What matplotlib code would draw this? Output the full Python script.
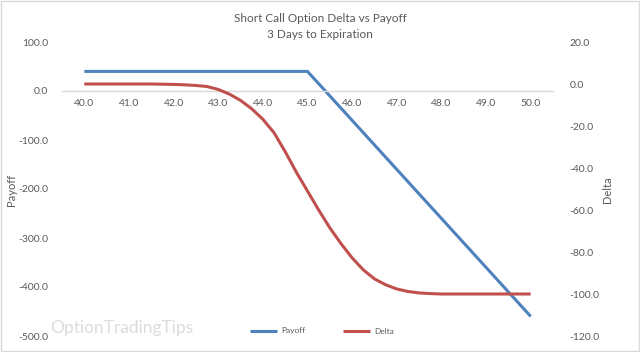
import matplotlib
matplotlib.use("Agg")
import matplotlib.pyplot as plt
from matplotlib.patches import Rectangle

plt.rcParams['font.family'] = ['Lato', 'DejaVu Sans']

# payoff of the short call (strike 45, premium 40)
payoff_price = [40.0, 41.0, 42.0, 43.0, 44.0, 45.0, 46.0, 47.0, 48.0, 49.0, 50.0]
payoff = [40, 40, 40, 40, 40, 40, -60, -160, -260, -360, -460]

# delta
delta_price = [40.0, 40.5, 41.0, 41.5, 42.0, 42.25, 42.5, 42.75, 43.0, 43.25, 43.5,
               43.75, 44.0, 44.25, 44.5, 44.75, 45.0, 45.25, 45.5, 45.75, 46.0,
               46.25, 46.5, 46.75, 47.0, 47.25, 47.5, 47.75, 48.0, 48.5, 49.0,
               49.5, 50.0]
delta = [0.0, 0.0, 0.0, 0.0, -0.2, -0.4, -0.7, -1.2, -2.6, -4.8, -7.8,
         -11.8, -16.8, -23.2, -32.2, -42.0, -51.0, -60.0, -68.5, -76.0, -82.8,
         -88.5, -92.8, -95.6, -97.6, -98.8, -99.5, -99.8, -100.0, -100.0, -100.0,
         -100.0, -100.0]

xticks = [40.0, 41.0, 42.0, 43.0, 44.0, 45.0, 46.0, 47.0, 48.0, 49.0, 50.0]
left_ticks = [100, 0, -100, -200, -300, -400, -500]
right_ticks = [20, 0, -20, -40, -60, -80, -100, -120]

blue = '#4F81BD'
red = '#C0504D'
txt = '#595959'

fig = plt.figure(figsize=(6.4, 3.52), dpi=100)
ax = fig.add_axes([62 / 640, 16 / 352, 491 / 640, 294 / 352])
ax2 = ax.twinx()

l1, = ax.plot(payoff_price, payoff, color=blue, lw=2.2, label='Payoff', solid_capstyle='butt')
l2, = ax2.plot(delta_price, delta, color=red, lw=2.2, label='Delta', solid_capstyle='butt')

ax.set_xlim(39.5, 50.5)
ax.set_ylim(-500, 100)
ax2.set_ylim(-120, 20)

for a in (ax, ax2):
    for s in a.spines.values():
        s.set_visible(False)
ax.spines['bottom'].set_visible(True)
ax.spines['bottom'].set_position(('data', 0))
ax.spines['bottom'].set_color('#d9d9d9')
ax.spines['bottom'].set_linewidth(1)

ax.set_xticks(xticks)
ax.set_xticklabels([f'{v:.1f}' for v in xticks])
ax.set_yticks(left_ticks)
ax.set_yticklabels([f'{v:.1f}' for v in left_ticks])
ax2.set_yticks(right_ticks)
ax2.set_yticklabels([f'{v:.1f}' for v in right_ticks])
ax.tick_params(axis='x', length=0, pad=6, labelsize=7.5, labelcolor=txt)
ax.tick_params(axis='y', length=0, pad=10, labelsize=7.5, labelcolor=txt)
ax2.tick_params(axis='y', length=0, pad=12, labelsize=7.5, labelcolor=txt)

fig.text(12 / 640, 1 - 190 / 352, 'Payoff', rotation=90, ha='center', va='center',
         fontsize=8, color=txt)
fig.text(608 / 640, 1 - 190 / 352, 'Delta', rotation=90, ha='center', va='center',
         fontsize=8, color=txt)

fig.text(0.5, 1 - 19 / 352, 'Short Call Option Delta vs Payoff', ha='center', va='center',
         fontsize=8.5, color=txt)
fig.text(0.5, 1 - 35 / 352, '3 Days to Expiration', ha='center', va='center',
         fontsize=8.5, color=txt)

fig.text(50 / 640, 1 - 328 / 352, 'OptionTradingTips', ha='left', va='center',
         fontsize=12.5, color='#dcdcdc', zorder=0)

fig.legend(handles=[l1, l2], loc='center', bbox_to_anchor=(322 / 640, 1 - 331 / 352),
           ncol=2, frameon=False, fontsize=6, handlelength=3.2, handletextpad=0.5,
           columnspacing=4.5, labelcolor=txt)

fig.patches.append(Rectangle((0.001, 0.002), 0.997, 0.995, transform=fig.transFigure,
                             fill=False, edgecolor='#d9d9d9', lw=1))

fig.savefig('out.png', dpi=100)
